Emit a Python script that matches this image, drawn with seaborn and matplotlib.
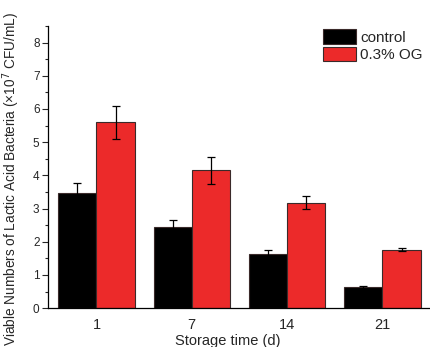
import pandas as pd
import numpy as np
import matplotlib
matplotlib.use("Agg")
import matplotlib.pyplot as plt
import seaborn as sns
from matplotlib.ticker import MultipleLocator

sns.set_style("ticks")
plt.rcParams['font.family'] = ['Liberation Sans', 'DejaVu Sans']

days = ['1', '7', '14', '21']
groups = ['control', '0.3% OG']
control = [3.46, 2.45, 1.64, 0.63]
control_err = [0.30, 0.20, 0.10, 0.05]
og = [5.60, 4.15, 3.18, 1.76]
og_err = [0.50, 0.40, 0.20, 0.05]

df = pd.DataFrame({
    'day': days * 2,
    'group': [groups[0]] * 4 + [groups[1]] * 4,
    'value': control + og,
    'err': control_err + og_err,
})

fig = plt.figure(figsize=(4.31, 3.47), dpi=100)
ax = fig.add_axes([0.111, 0.112, 0.887, 0.813])

sns.barplot(data=df, x='day', y='value', hue='group', order=days, hue_order=groups,
            palette=['#000000', '#EC2A2A'], saturation=1, width=0.8,
            edgecolor='#3a2a2a', linewidth=0.8, errorbar=None, ax=ax)

# error bars placed on the drawn bars
for patches, g in zip(ax.containers, groups):
    sub = df[df['group'] == g].set_index('day').loc[days]
    xs = [p.get_x() + p.get_width() / 2 for p in patches]
    ax.errorbar(xs, sub['value'], yerr=sub['err'], fmt='none', ecolor='black',
                elinewidth=0.9, capsize=3, capthick=0.9, zorder=5)

ax.set_ylim(0, 8.5)
ax.set_xlim(-0.51, 3.5)
ax.yaxis.set_major_locator(MultipleLocator(1))
ax.yaxis.set_minor_locator(MultipleLocator(0.5))
ax.tick_params(axis='y', which='major', length=4, width=0.8, labelsize=8.5, pad=2)
ax.tick_params(axis='y', which='minor', length=2, width=0.8)
ax.tick_params(axis='x', length=0, labelsize=10.5, pad=7)
sns.despine(ax=ax)
for s in ['left', 'bottom']:
    ax.spines[s].set_linewidth(0.9)
    ax.spines[s].set_color('black')

ax.set_xlabel('Storage time (d)', fontsize=10.5)
ax.set_ylabel('Viable Numbers of Lactic Acid Bacteria (×10$^{7}$ CFU/mL)', fontsize=9.8)
ax.xaxis.set_label_coords(0.47, -0.092)
ax.yaxis.set_label_coords(-0.068, 0.457)

ax.legend(loc='upper right', bbox_to_anchor=(1.0, 1.015), frameon=False, fontsize=11,
          handlelength=2.2, handleheight=1.05, handletextpad=0.25, labelspacing=0.12,
          borderaxespad=0.1)

plt.savefig('out.png', dpi=100)
